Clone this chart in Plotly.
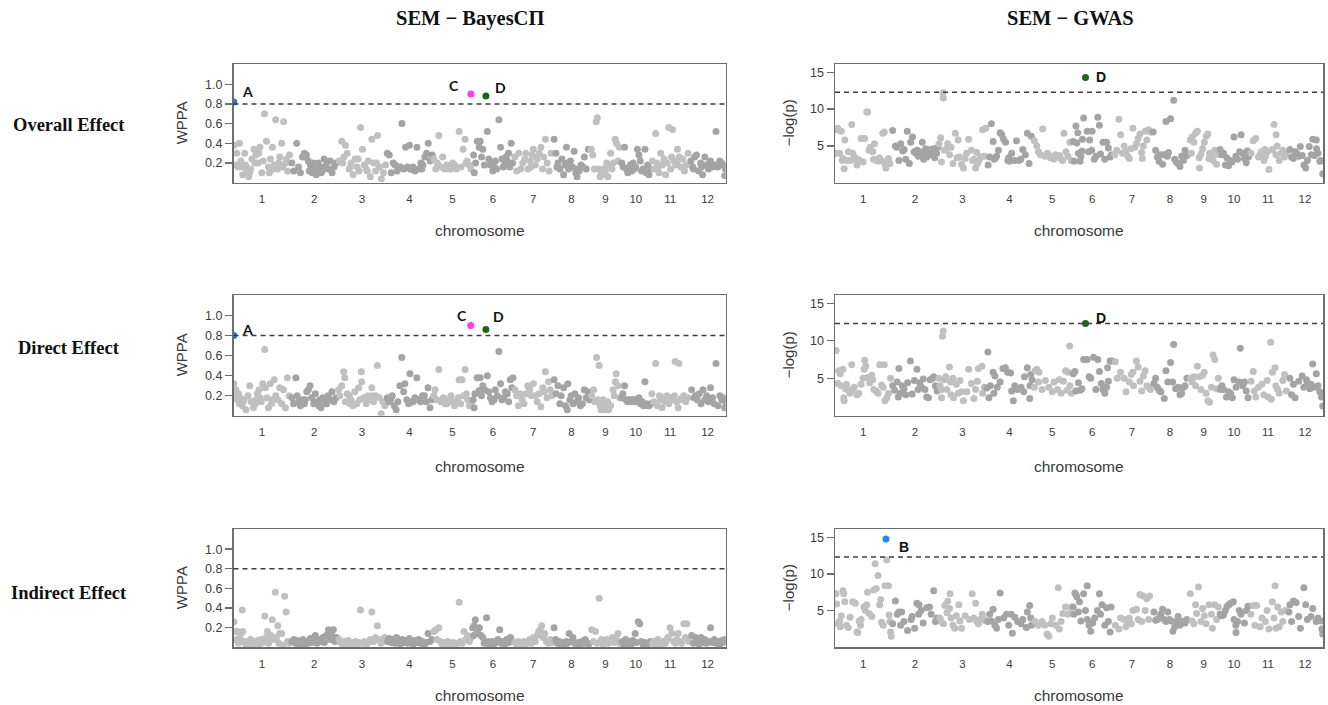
import plotly.graph_objects as go

# ---------------- data ----------------
CHR_LEN = [43.27, 35.94, 36.41, 35.50, 29.96, 31.25, 29.70, 28.44, 23.01, 23.21, 29.02, 27.53]
CHR_NAMES = ["1", "2", "3", "4", "5", "6", "7", "8", "9", "10", "11", "12"]

WPPA_TICKS = [0.2, 0.4, 0.6, 0.8, 1.0]
WPPA_TICK_TEXT = ["0.2", "0.4", "0.6", "0.8", "1.0"]
GWAS_TICKS = [5, 10, 15]
GWAS_TICK_TEXT = ["5", "10", "15"]
WPPA_THRESHOLD = 0.8
GWAS_THRESHOLD = 12.3

# one list per chromosome of (position in Mb, value)
OVERALL_BAYES = [
    [(0.5,.38),(1.5,.18),(2.5,.30),(3.5,.16),(4.5,.40),(5.5,.22),(6.2,.16),(7,.08),(8.5,.30),(9.2,.18),(10,.12),(11.5,.06),(12.2,.10),(13,.14),(14,.24),(15.5,.34),(16.2,.20),(17,.28),(18.5,.20),(19.2,.30),(20,.36),(21.5,.10),(22.5,.22),(23.5,.70),(25,.42),(26.5,.16),(27.2,.10),(28,.24),(29.5,.36),(30.2,.14),(31,.18),(32,.64),(33.5,.14),(34.2,.20),(35,.26),(36.5,.40),(37.2,.16),(38,.62),(39.5,.20),(40.2,.24),(41,.12),(42.5,.28)],
    [(1,.20),(2.5,.12),(4.6,.40),(6,.16),(7.5,.10),(9,.26),(10.5,.30),(11.2,.26),(12,.28),(13.5,.22),(14.2,.12),(15,.18),(16.5,.10),(17.2,.20),(18,.14),(19.5,.08),(20.2,.14),(21,.20),(22.5,.16),(23.2,.10),(24,.12),(25.5,.24),(26.2,.16),(27,.18),(28.5,.14),(30,.22),(31.5,.10),(33,.16),(34.5,.20)],
    [(1,.22),(2.9,.42),(4.5,.26),(5.7,.38),(7,.30),(8.5,.14),(10,.20),(11.5,.08),(13,.24),(14.5,.16),(16,.12),(17.2,.56),(18.6,.34),(20,.18),(21.5,.14),(23,.22),(24.5,.06),(25.7,.44),(27,.20),(28.5,.12),(30,.48),(31.5,.16),(32.9,.04),(34.5,.10),(36,.18),(3.6,.20),(9.2,.16),(15.2,.24),(22.2,.12),(29.2,.20)],
    [(1,.30),(2.5,.28),(4,.10),(5.5,.20),(7,.18),(8.5,.12),(10,.16),(12.1,.60),(13.5,.14),(14.9,.36),(16.3,.16),(17.8,.38),(19.2,.14),(20.6,.16),(22,.12),(23.5,.36),(25,.14),(26.5,.20),(28,.18),(29.5,.26),(30.8,.30),(32,.40),(33.5,.22),(35,.28),(11.2,.16),(18.5,.14),(27.2,.14)],
    [(0.8,.24),(2.2,.14),(3.5,.20),(4.6,.48),(6,.16),(7.5,.26),(9,.14),(10.5,.18),(12,.16),(13.5,.14),(15,.20),(16.5,.18),(18,.14),(20,.52),(21.5,.16),(23,.34),(24.5,.44),(26,.22),(27.5,.18),(29,.14),(11.2,.14),(17.2,.16),(25.2,.20)],
    [(1,.28),(1.5,.10),(2.5,.20),(3.8,.42),(5.2,.36),(6,.42),(7,.26),(8,.34),(9.2,.18),(11.4,.52),(12.5,.24),(13.5,.18),(14.5,.20),(15.5,.12),(16.5,.16),(17.5,.22),(18.5,.14),(20.2,.64),(21.4,.36),(22.5,.24),(23.5,.16),(24.5,.18),(25.5,.26),(26.5,.22),(27.5,.30),(28.5,.16),(29.5,.40),(30.5,.20)],
    [(1,.26),(2.5,.12),(4,.30),(5.5,.14),(7,.20),(8.5,.24),(9.4,.30),(11,.14),(12.5,.22),(14,.28),(15,.34),(16.5,.18),(18,.24),(19.5,.30),(20.8,.36),(22,.14),(23,.26),(24.2,.44),(25.5,.20),(27,.12),(28.5,.30),(13.2,.16),(17.2,.26)],
    [(1.1,.44),(2.5,.30),(4,.20),(5.5,.14),(7,.24),(8.3,.08),(9.5,.18),(10.5,.36),(12,.14),(13.5,.22),(15,.16),(16.3,.32),(17.5,.10),(18.5,.06),(20,.12),(21.5,.18),(23,.16),(24,.26),(25.5,.14),(27,.34),(3.2,.16),(11.2,.20),(19.2,.14)],
    [(0.8,.34),(2,.28),(3.2,.14),(4.6,.62),(5.4,.66),(6.5,.14),(7.5,.06),(8.5,.10),(9.5,.08),(10.5,.14),(11.5,.12),(12.5,.20),(13.5,.06),(14.5,.18),(15.5,.30),(16.5,.14),(17.5,.20),(19,.44),(20,.40),(21,.22),(22,.36)],
    [(1,.20),(2,.16),(3.1,.36),(4.5,.14),(5.5,.10),(6.5,.16),(7.5,.18),(8.5,.12),(9.5,.20),(10.5,.14),(11.5,.16),(12.8,.34),(14,.28),(15,.22),(16,.12),(17,.14),(18.5,.34),(19.5,.10),(20.5,.18),(21.5,.08),(22.5,.14)],
    [(1,.22),(2.2,.14),(3.4,.50),(4.6,.20),(6,.10),(7.2,.30),(8.5,.18),(9.8,.24),(11,.08),(12.2,.20),(13.4,.56),(14.8,.14),(16.2,.54),(17.5,.22),(18.8,.18),(20,.34),(21.3,.26),(22.6,.16),(24,.24),(25.3,.12),(26.6,.18),(28,.30),(5.2,.16),(10.5,.20),(15.5,.26),(19.5,.20)],
    [(1,.22),(2.5,.16),(4,.26),(5.4,.28),(7,.12),(8.5,.20),(10,.08),(11.7,.26),(13,.18),(14.5,.14),(16,.22),(17.5,.16),(19,.18),(20.2,.52),(21.5,.16),(23,.22),(24.5,.20),(25.5,.18),(26.8,.07),(27.3,.14),(3.2,.14),(9.2,.16),(15.2,.20)],
]

OVERALL_GWAS = [
    [(0.5,4.0),(2.1,7.4),(3.5,4.0),(4.8,7.0),(6.1,3.3),(7.0,1.9),(7.5,5.8),(9,3.0),(10.2,4.2),(11.5,3.0),(12.8,7.9),(13.5,4.0),(15,3.5),(16.8,2.4),(18.2,3.1),(20,6.0),(21.5,2.8),(22.7,6.0),(24.3,9.6),(24.9,9.6),(26,4.4),(27,4.8),(28.9,4.2),(29.5,3.2),(30.2,5.3),(31.5,3.0),(32.9,2.9),(34,3.4),(35.6,3.0),(36.5,6.7),(37.7,6.9),(38.2,2.5),(39,2.0),(40.9,3.3),(42,2.6),(1.2,7.2),(5.5,3.0),(14.2,3.2)],
    [(0.8,7.1),(2.9,5.0),(4,4.8),(5.6,3.0),(7,5.3),(8.5,4.3),(9.6,4.5),(12,7.0),(13.6,2.6),(14.6,5.5),(16,6.2),(18.6,4.0),(19.5,4.4),(20.5,3.6),(21.5,4.2),(22.5,3.9),(23.5,5.5),(24.5,3.2),(26,4.6),(27,3.5),(28,4.0),(29.5,4.5),(31,3.8),(32,4.6),(33,3.4),(34.5,4.0),(35.5,4.8),(10.8,3.2),(17.2,4.2),(25.2,4.1)],
    [(0.3,5.3),(1.6,6.1),(2.2,2.8),(3.3,12.2),(3.6,11.5),(4.5,4.4),(5.6,4.5),(7,5.3),(8.5,3.8),(9.6,4.8),(11,2.6),(12.8,6.7),(14,3.4),(15,5.8),(16.3,3.5),(17.5,2.5),(19,2.0),(20.3,3.3),(21.5,4.0),(23,5.9),(25.1,4.4),(26,3.0),(27,3.2),(28.3,2.0),(29.2,4.1),(29.7,2.6),(31,3.0),(32.2,3.5),(33.7,7.2),(35,3.6),(36.1,7.4)],
    [(1.5,2.4),(2.7,3.5),(4,8.0),(5.3,5.6),(7,3.4),(8,3.6),(9.4,4.4),(10.7,6.8),(12,6.5),(13.3,5.9),(14.8,5.5),(16.6,3.0),(18,2.9),(19.5,4.0),(21.5,3.0),(23.2,5.7),(25,3.0),(26.5,3.2),(28,4.5),(30,3.8),(31.5,6.7),(32.8,2.6),(34.5,6.3),(6.2,3.2),(17.2,3.4)],
    [(1.3,5.7),(3.2,5.0),(4.5,4.2),(6,3.8),(7.7,7.3),(9.5,3.6),(11.5,4.0),(13.5,3.4),(15,3.6),(17.5,3.8),(19.7,3.5),(21.5,3.3),(23,3.0),(24,6.7),(25.5,4.2),(27,3.6),(28.5,5.5),(29.6,3.0),(10.5,3.8),(16.2,3.2),(20.6,3.7)],
    [(1.1,5.6),(1.9,2.9),(3.2,7.7),(3.8,5.4),(4.6,6.8),(5.1,4.0),(6.4,2.9),(7.0,3.6),(7.8,4.3),(8.1,5.9),(9.1,8.8),(11.8,7.0),(13.7,5.8),(15.3,4.4),(15.6,7.0),(17.2,3.2),(19.9,8.9),(21.2,7.8),(22.0,3.9),(23.9,5.5),(25.3,3.2),(26.6,5.5),(28.0,4.7),(29.3,3.5),(30.5,3.8),(12.8,4.2),(18.5,3.6)],
    [(1.5,3.8),(4.8,8.6),(6.1,6.5),(8.8,5.0),(10.2,4.2),(11.5,3.6),(12.8,3.3),(14,4.6),(15.5,7.4),(17,4.8),(18.2,5.3),(19.5,6.0),(20.9,6.6),(22.2,4.1),(22.7,3.3),(23.5,5.0),(24.9,7.0),(26.2,5.8),(27.5,7.2),(28.9,6.9),(3.2,4.4),(7.5,4.0)],
    [(1.3,6.9),(3.2,4.4),(4.5,3.5),(5.8,2.9),(7,3.8),(8.5,2.5),(9.3,3.8),(11.1,8.3),(12.2,3.6),(13,4.1),(14.6,8.7),(17,11.2),(17.8,3.2),(19,2.8),(20.4,2.6),(21.8,2.2),(23.1,3.6),(24.5,3.0),(25.7,4.4),(27.1,3.7)],
    [(1.3,5.8),(2.1,4.0),(2.7,6.2),(4.0,5.5),(5.3,6.7),(6.7,7.0),(8.0,3.4),(8.3,2.0),(9.5,3.9),(10.7,4.6),(12.0,5.5),(13.4,6.3),(14.7,6.6),(15.5,3.3),(16.0,4.0),(17.5,3.6),(18.7,3.0),(20.0,4.4),(21.4,2.5),(22.5,3.8)],
    [(1.1,4.5),(2.5,3.8),(3.7,4.0),(5.1,2.4),(7.5,2.3),(8.8,3.0),(10.0,2.8),(11.7,6.2),(13.1,3.6),(14.4,3.2),(16.0,4.2),(17.1,6.5),(18.4,4.0),(19.7,3.3),(21.1,2.7),(21.9,4.3),(22.8,3.5),(6.2,3.4)],
    [(1.5,4.0),(3.2,5.7),(5.1,6.0),(7.2,3.5),(9.3,4.2),(11.4,3.0),(12.0,4.5),(12.5,3.6),(15.2,1.8),(17.8,4.5),(19.1,7.9),(20.5,3.8),(20.7,6.5),(21.5,5.0),(23.1,3.0),(24.5,4.0),(25.8,4.4),(27.1,3.5),(28.2,4.0),(8.2,3.8),(14.0,4.2)],
    [(2.2,4.5),(3.5,3.5),(4.9,3.3),(6.2,4.2),(7.5,4.0),(9,3.6),(10.2,4.9),(11.6,3.7),(12.9,2.4),(14.3,2.0),(15.6,3.0),(17,4.9),(18.6,3.8),(19.7,5.9),(21,3.7),(22.4,5.8),(22.6,4.6),(23.7,4.0),(25.1,2.9),(26,3.0),(27.3,1.2)],
]

DIRECT_BAYES = [
    [(0.3,.32),(0.9,.18),(1.8,.26),(3.0,.16),(3.7,.22),(4.5,.12),(5.1,.18),(6.6,.10),(8.0,.16),(9.5,.06),(11,.20),(12.3,.30),(13.5,.14),(15.1,.08),(16.5,.12),(18.0,.22),(19.4,.26),(21,.14),(22.2,.32),(23.7,.66),(24.2,.28),(25.3,.18),(26.5,.08),(27.9,.32),(28.8,.12),(30.8,.36),(32,.20),(33.6,.16),(35.1,.28),(36.5,.12),(37.9,.26),(39.4,.08),(40.8,.38),(42.2,.20),(2.4,.20),(7.2,.14),(17.2,.16),(20.2,.18),(29.6,.16)],
    [(1.0,.18),(2.3,.12),(4.0,.38),(5.0,.20),(6.0,.14),(7.5,.10),(9.0,.16),(10.5,.12),(12.3,.24),(13.5,.26),(14.8,.30),(16,.18),(18.8,.22),(20.2,.14),(21.5,.10),(23.1,.08),(24.5,.18),(26,.14),(27.4,.12),(28.5,.20),(30.2,.16),(31.4,.24),(32.8,.14),(34.5,.18),(11.2,.16),(17.5,.12),(22.2,.16)],
    [(0.5,.26),(1.4,.20),(2.9,.30),(4.3,.44),(5.1,.38),(5.7,.14),(7,.22),(8.6,.20),(10,.16),(11.4,.10),(12.8,.24),(14.2,.12),(15.7,.28),(17.7,.44),(18.0,.34),(19.5,.18),(21.4,.12),(22.8,.20),(24.2,.16),(25.7,.28),(27,.14),(28.5,.20),(29.9,.50),(31.4,.18),(32.8,.02),(34.2,.14),(35.6,.10),(9.2,.12),(16.5,.16),(26.2,.20)],
    [(1,.18),(2.2,.14),(3.4,.16),(4.8,.20),(6.3,.10),(7.7,.06),(9,.14),(10.5,.30),(12.0,.58),(13.4,.24),(14.3,.32),(15.8,.16),(17.2,.12),(18.2,.42),(19.3,.14),(20.5,.14),(22,.18),(23.4,.38),(24.8,.16),(26.2,.14),(27.7,.20),(29.1,.20),(30.5,.14),(31.9,.28),(33.4,.08),(34.8,.16)],
    [(0.8,.20),(1.7,.26),(3.2,.16),(4.6,.46),(6.3,.14),(8.0,.18),(9.5,.12),(10.8,.12),(12.3,.16),(13.7,.20),(15.2,.14),(16.5,.10),(18.0,.14),(19.2,.18),(20.0,.36),(21.2,.12),(22.2,.36),(23.4,.20),(24.5,.46),(25.5,.22),(26.5,.16),(27.9,.10),(29.5,.14)],
    [(0.6,.16),(1.4,.08),(2.0,.22),(3.7,.38),(5.1,.25),(6.0,.38),(7.0,.20),(8.0,.30),(9.4,.26),(11.4,.40),(12.5,.24),(13.7,.18),(15,.14),(16.5,.16),(17.4,.26),(19,.20),(20.2,.64),(21.4,.32),(22.5,.16),(23.7,.18),(25.1,.24),(26.5,.22),(27.6,.14),(28.8,.36),(30.0,.28),(30.8,.38)],
    [(1.0,.26),(2.3,.20),(3.7,.10),(5.0,.22),(6.6,.16),(8.0,.12),(9.4,.22),(10.8,.30),(12.3,.26),(13.6,.20),(15.1,.32),(16.5,.20),(18.0,.14),(19.4,.22),(20.8,.09),(22.2,.28),(23.3,.24),(24.2,.44),(25.4,.18),(26.5,.34),(27.9,.26),(29.0,.20)],
    [(1.1,.36),(2.5,.22),(4.0,.30),(5.4,.12),(6.5,.20),(8.3,.28),(9.7,.10),(11.1,.06),(11.5,.32),(13,.16),(14.0,.20),(15.4,.12),(16.8,.22),(18.2,.14),(19.6,.18),(21.0,.10),(22.5,.12),(24.0,.26),(25.4,.18),(26.8,.24),(27.8,.16)],
    [(1.1,.20),(2.6,.26),(3.5,.14),(4.8,.58),(5.8,.16),(6.8,.50),(7.5,.10),(8.3,.06),(9.0,.12),(9.7,.16),(10.4,.08),(11.1,.06),(11.8,.10),(12.5,.08),(13.2,.14),(14.0,.06),(15.5,.10),(17.4,.26),(18.3,.20),(19.1,.34),(19.7,.42),(21.1,.30),(22.5,.18)],
    [(0.8,.18),(1.8,.22),(3.1,.30),(4.2,.16),(5.3,.14),(6.3,.16),(7.4,.16),(8.5,.14),(9.6,.16),(10.6,.16),(11.7,.14),(12.8,.16),(14.0,.18),(15.2,.12),(16.3,.14),(17.5,.10),(18.5,.34),(19.6,.12),(20.6,.10),(21.7,.10),(22.7,.12)],
    [(0.6,.22),(2.0,.14),(3.4,.52),(4.8,.10),(6.3,.20),(7.1,.16),(8.3,.08),(9.5,.18),(10.6,.14),(12.0,.20),(13.4,.12),(14.8,.18),(16.2,.16),(17.7,.20),(18.2,.54),(19.3,.14),(20.5,.08),(21.1,.52),(22.0,.16),(23.4,.18),(24.8,.20),(26.2,.14),(27.7,.18)],
    [(1.7,.26),(3.5,.18),(4.6,.20),(6.0,.16),(7.4,.22),(8.8,.12),(10.3,.26),(11.7,.16),(13.1,.20),(14.5,.14),(16.0,.28),(17.5,.18),(18.8,.12),(20.2,.52),(21.7,.10),(23.1,.20),(24.5,.16),(25.9,.18),(26.8,.08),(27.3,.14)],
]

DIRECT_GWAS = [
    [(0.8,8.7),(2.1,4.3),(2.9,6.0),(4.0,5.6),(4.8,4.0),(6.1,6.2),(6.7,2.4),(7.0,2.0),(8.0,3.6),(8.8,4.2),(10.2,3.4),(11.5,3.0),(12.8,6.8),(13.2,3.5),(14.7,3.8),(16.8,2.8),(18.2,3.0),(20.0,4.2),(21.5,5.0),(22.2,6.2),(22.7,7.4),(23.5,6.6),(24.9,5.1),(26.5,4.4),(28.1,5.4),(28.9,4.8),(29.7,3.5),(31.6,3.3),(32.9,3.0),(34.2,6.8),(35.6,4.1),(36.9,3.8),(37.7,6.8),(38.2,2.0),(39.6,2.4),(40.9,3.0),(42.5,5.0)],
    [(0.8,4.0),(2.4,3.4),(4.3,4.5),(5.1,2.5),(5.6,6.3),(6.9,3.0),(8.2,4.0),(9.5,3.6),(10.9,2.8),(12.3,4.4),(14.4,7.3),(15.7,2.9),(17.5,4.7),(19.4,6.2),(20.2,3.5),(21.5,4.4),(22.9,3.8),(24.2,4.9),(25.5,3.5),(26.9,2.5),(28.2,2.4),(29.5,4.8),(31.4,5.0),(32.2,5.2),(33.5,4.0),(34.8,3.3)],
    [(0.3,5.0),(1.1,4.0),(2.1,3.5),(2.3,2.4),(3.0,10.6),(3.5,11.3),(4.3,4.8),(5.6,5.2),(6.4,3.5),(8.3,6.5),(9.1,4.5),(9.6,2.8),(11.0,5.0),(11.5,2.4),(13.6,4.2),(15.0,3.0),(16.3,4.7),(17.6,3.2),(19.0,2.0),(21.7,3.2),(23.0,6.2),(25.1,4.3),(27.0,2.3),(28.3,3.5),(29.7,4.6),(30.5,6.3),(33.2,6.6),(33.7,3.0),(35.0,3.8)],
    [(0.5,3.7),(1.3,8.5),(2.1,2.4),(3.2,4.0),(5.3,5.8),(5.9,3.0),(6.7,5.3),(8.5,3.8),(10.7,4.5),(12.8,6.3),(14.7,6.4),(16.5,5.8),(18.7,5.7),(19.5,3.3),(20.8,2.0),(21.9,4.0),(24.0,3.5),(26.7,3.8),(28.8,3.2),(29.3,5.2),(31.5,6.4),(33.3,2.3),(33.5,4.0),(34.1,5.5),(35.2,4.8)],
    [(1.3,3.8),(1.9,6.0),(3.2,6.2),(4.5,4.5),(5.0,5.8),(7.2,3.5),(9.8,4.7),(12.5,3.8),(15.1,3.2),(16.4,4.5),(19.1,3.5),(20.4,4.8),(21.8,3.0),(23.6,4.6),(25.2,6.0),(26.3,3.4),(27.1,5.8),(28.4,9.3),(28.6,4.0),(29.7,3.0)],
    [(1.1,5.6),(2.4,5.9),(3.2,3.3),(5.1,4.4),(6.4,3.4),(7.8,3.6),(9.1,7.5),(11.8,7.5),(13.2,5.2),(14.5,5.0),(16.7,7.8),(18.5,3.5),(19.9,7.5),(21.2,5.9),(22.6,4.3),(23.9,3.5),(25.3,3.0),(26.6,3.8),(27.4,6.4),(28.0,4.6),(29.3,7.3),(30.6,7.3)],
    [(2.1,7.2),(3.5,5.0),(6.1,5.8),(8.8,5.0),(10.2,3.2),(12.8,4.5),(14.2,5.5),(15.5,5.8),(16.0,4.0),(18.2,7.3),(19.5,6.5),(20.9,4.6),(22.2,3.3),(23.5,5.3),(24.9,6.0),(26.2,4.0),(27.5,3.8),(28.9,3.5)],
    [(1.9,4.3),(3.2,5.0),(4.5,3.8),(5.8,3.4),(7.2,3.2),(9.8,2.3),(11.1,6.0),(12.5,4.5),(14.6,7.1),(16.2,4.5),(17.0,9.5),(18.5,3.6),(20.4,3.8),(21.8,2.8),(23.1,3.0),(24.5,3.8),(25.7,4.0),(27.1,5.0)],
    [(1.3,5.0),(2.7,4.5),(4.0,5.2),(5.3,4.0),(6.7,6.6),(8.0,5.2),(9.4,3.5),(10.7,5.4),(12.0,5.8),(13.4,3.0),(14.7,2.0),(16.0,1.8),(17.4,3.8),(18.7,8.1),(20.0,7.5),(21.4,3.6),(22.7,5.0)],
    [(1.2,3.5),(2.4,4.0),(3.7,3.5),(5.9,2.5),(7.5,3.2),(9.1,3.0),(10.4,2.4),(11.7,4.8),(13.3,3.8),(15.7,4.5),(16.5,9.0),(18.4,4.0),(19.7,4.5),(21.1,3.3),(22.4,2.4)],
    [(1.5,4.6),(3.2,5.9),(4.0,3.3),(5.1,2.5),(7.2,3.8),(9.8,4.2),(11.2,2.8),(13.8,4.7),(14.6,2.5),(16.5,9.8),(17.0,2.2),(17.8,5.8),(19.9,6.4),(20.5,4.0),(21.8,3.5),(23.1,3.0),(25.8,4.7),(27.1,5.5),(28.5,3.3)],
    [(2.2,5.0),(3.5,2.8),(4.9,4.2),(6.2,2.4),(8.9,4.6),(11.6,5.3),(12.9,3.8),(14.8,4.8),(15.6,4.4),(17.5,3.6),(18.3,4.2),(19.7,6.9),(21.0,3.8),(22.4,5.6),(23.7,4.0),(25.1,3.2),(26.4,2.5),(27.3,1.3)],
]

INDIRECT_BAYES = [
    [(0.3,.26),(1.2,.08),(2.0,.16),(2.9,.16),(3.8,.04),(4.6,.10),(5.5,.14),(6.6,.38),(7.0,.16),(8.0,.06),(9.3,.03),(10.5,.06),(11.8,.04),(13.0,.08),(14.5,.02),(15.8,.06),(17.0,.04),(18.5,.07),(19.8,.03),(21.0,.08),(22.3,.05),(23.7,.32),(24.6,.10),(25.7,.16),(26.6,.04),(27.6,.08),(28.5,.12),(29.4,.28),(30.5,.08),(31.7,.56),(32.5,.10),(33.6,.22),(34.4,.04),(35.1,.14),(36.5,.14),(37.5,.02),(38.8,.52),(39.9,.36),(41.0,.06),(42.3,.04)],
    [(1.0,.06),(2.4,.08),(3.8,.04),(5.2,.07),(6.6,.02),(8.0,.05),(9.4,.08),(10.8,.03),(12.2,.06),(13.6,.04),(15.0,.09),(16.4,.05),(17.6,.07),(18.8,.12),(20.0,.04),(21.4,.08),(22.8,.06),(24.5,.10),(25.6,.05),(27.0,.12),(28.8,.18),(30.0,.08),(31.2,.12),(32.5,.18),(33.6,.06),(34.8,.10)],
    [(0.8,.08),(2.2,.05),(3.6,.03),(5.0,.06),(6.4,.04),(7.8,.07),(9.2,.03),(10.6,.05),(12.0,.04),(13.4,.06),(14.8,.03),(16.0,.05),(17.1,.38),(18.5,.04),(20.0,.06),(21.5,.03),(23.0,.05),(24.5,.08),(25.7,.36),(27.0,.06),(28.4,.10),(29.9,.22),(31.2,.08),(32.6,.04),(34.0,.07),(35.5,.10)],
    [(1.0,.06),(2.4,.09),(3.8,.05),(5.2,.08),(6.6,.04),(8.0,.10),(9.4,.06),(10.8,.03),(12.2,.08),(13.6,.05),(15.0,.07),(16.4,.04),(17.8,.09),(19.2,.06),(20.6,.03),(22.0,.07),(23.4,.05),(24.8,.08),(26.2,.04),(27.6,.06),(29.0,.02),(30.4,.05),(31.9,.14),(33.4,.06),(34.8,.08)],
    [(0.9,.16),(2.3,.18),(3.2,.08),(4.6,.20),(5.8,.06),(7.2,.03),(8.6,.05),(10.0,.02),(11.4,.06),(12.8,.04),(14.2,.03),(15.6,.05),(17.0,.02),(18.5,.04),(20.0,.46),(21.0,.06),(22.3,.04),(23.7,.16),(25.0,.08),(26.4,.12),(27.8,.06),(29.2,.10)],
    [(0.3,.20),(1.0,.12),(1.4,.22),(2.3,.28),(3.3,.14),(4.3,.14),(5.4,.20),(6.6,.12),(8.0,.10),(9.0,.04),(10.8,.30),(11.8,.06),(13.0,.02),(14.0,.05),(15.1,.06),(16.4,.03),(17.8,.05),(19.4,.08),(20.8,.18),(22.0,.04),(23.4,.06),(24.8,.03),(26.2,.08),(27.6,.05),(29.0,.10),(30.4,.06)],
    [(1.0,.05),(2.4,.03),(3.8,.06),(5.2,.02),(6.6,.04),(8.0,.06),(9.4,.03),(10.8,.05),(12.2,.08),(13.6,.04),(15.1,.10),(16.5,.06),(18.0,.12),(19.2,.16),(20.2,.18),(21.4,.22),(22.5,.10),(23.7,.14),(25.0,.06),(26.4,.04),(27.8,.08),(29.0,.05)],
    [(1.1,.20),(2.3,.08),(3.6,.04),(5.0,.06),(6.3,.02),(7.6,.05),(9.0,.03),(10.3,.06),(11.4,.04),(12.5,.14),(13.8,.06),(15.4,.10),(16.7,.04),(18.0,.02),(19.3,.05),(20.6,.03),(22.0,.06),(23.3,.04),(24.6,.08),(26.0,.05),(27.3,.03)],
    [(1.1,.18),(2.5,.06),(4.0,.16),(5.4,.04),(6.8,.50),(8.3,.08),(9.6,.03),(11.0,.06),(12.4,.08),(13.8,.04),(15.2,.06),(16.8,.10),(18.2,.05),(19.6,.08),(21.1,.14),(22.4,.04)],
    [(1.0,.06),(2.4,.03),(3.8,.08),(5.2,.04),(6.6,.06),(8.0,.02),(9.4,.07),(11.1,.14),(12.2,.05),(13.4,.26),(14.5,.24),(15.8,.06),(17.2,.03),(18.6,.05),(20.0,.02),(21.4,.04),(22.7,.06)],
    [(1.0,.04),(2.4,.06),(3.8,.03),(5.2,.08),(6.6,.05),(8.0,.02),(9.4,.06),(10.8,.04),(12.0,.08),(12.8,.10),(14.3,.20),(15.7,.14),(17.0,.06),(18.4,.04),(19.5,.08),(20.5,.14),(21.8,.06),(23.0,.04),(24.8,.24),(26.0,.10),(27.1,.24),(28.3,.06)],
    [(1.7,.12),(3.0,.04),(4.6,.10),(6.0,.06),(7.4,.03),(8.8,.10),(10.2,.05),(11.6,.08),(13.0,.04),(14.5,.06),(16.0,.20),(17.4,.05),(18.8,.08),(20.2,.04),(21.6,.06),(23.0,.03),(24.4,.07),(25.8,.05),(27.0,.08)],
]

INDIRECT_GWAS = [
    [(0.8,7.3),(1.3,5.9),(2.1,3.2),(3.5,3.6),(4.0,2.8),(4.8,4.3),(6.1,7.7),(6.7,7.3),(7.5,6.2),(8.8,3.0),(10.2,2.7),(11.5,4.1),(13.6,6.2),(15.5,6.0),(16.8,2.1),(17.4,2.0),(18.5,3.6),(19.5,3.0),(20.0,3.8),(22.2,5.5),(23.2,5.0),(24.3,5.8),(24.9,7.5),(26.2,4.6),(28.1,4.2),(29.7,7.8),(30.7,11.4),(31.6,8.0),(32.9,9.8),(34.2,5.8),(35.0,6.5),(35.6,3.4),(36.9,3.0),(38.2,8.4),(39.6,11.9),(40.9,8.4),(41.4,4.4),(42.0,3.5),(42.5,2.1),(43.0,1.5)],
    [(0.8,3.2),(2.9,6.3),(4.3,4.5),(5.6,4.8),(6.9,3.0),(7.7,4.8),(9.5,3.5),(12.2,2.3),(14.9,3.8),(15.7,4.2),(17.6,2.6),(19.4,6.0),(20.7,4.5),(21.0,5.8),(22.6,5.0),(24.2,3.3),(26.9,5.4),(29.0,5.5),(30.3,4.5),(32.2,7.7),(33.5,3.5),(34.8,4.0)],
    [(1.1,4.0),(2.1,3.5),(3.7,3.2),(4.8,5.7),(6.4,4.7),(7.0,6.3),(8.3,5.3),(8.8,7.3),(9.6,4.0),(11.0,3.0),(12.3,2.6),(13.6,4.3),(15.5,5.8),(16.3,3.6),(17.6,2.6),(20.3,4.3),(23.5,3.8),(25.7,7.3),(27.0,4.0),(28.3,6.0),(29.2,3.6),(30.5,3.2),(31.8,3.8),(33.4,4.5),(34.8,3.8),(36.0,3.6)],
    [(1.3,3.5),(2.7,4.5),(4.0,3.6),(5.3,5.2),(6.7,3.0),(8.0,2.6),(9.3,3.8),(10.7,7.4),(13.3,4.0),(15.5,4.5),(17.3,3.0),(19.2,4.5),(20.0,1.9),(21.9,4.1),(24.0,3.5),(26.7,3.2),(28.0,3.8),(30.7,2.7),(31.5,4.8),(33.3,5.7),(34.1,4.0),(34.7,3.0)],
    [(1.9,3.5),(4.5,3.0),(7.2,3.5),(9.3,3.0),(11.1,1.8),(12.5,1.5),(13.8,3.2),(15.1,4.0),(17.8,3.0),(19.6,8.1),(20.4,2.5),(21.8,3.5),(23.1,4.6),(25.2,5.5),(27.1,4.5),(28.4,4.6),(29.7,5.5)],
    [(1.1,5.5),(1.6,4.5),(2.4,7.4),(3.2,7.2),(3.8,6.9),(5.1,4.8),(5.9,6.2),(7.0,3.6),(9.1,7.3),(10.5,5.0),(11.8,8.4),(11.9,3.8),(13.2,3.0),(14.5,2.2),(16.0,3.3),(17.5,4.0),(19.6,5.0),(21.2,7.3),(22.0,4.5),(23.1,5.8),(25.3,3.0),(26.6,5.4),(28.0,3.5),(29.3,2.1),(30.1,5.5)],
    [(2.1,3.0),(4.8,2.5),(6.1,4.0),(8.8,3.8),(10.2,2.8),(11.5,3.2),(12.8,4.0),(14.2,3.2),(15.5,5.0),(18.2,5.2),(19.5,3.8),(20.9,7.2),(22.2,3.5),(23.5,7.0),(24.9,5.0),(26.2,6.6),(27.5,3.8),(28.3,7.0)],
    [(1.9,4.8),(3.2,3.7),(4.5,3.8),(5.8,4.0),(7.2,4.5),(8.5,5.2),(9.8,3.8),(11.1,3.5),(12.5,4.8),(13.8,3.8),(15.1,3.6),(16.4,2.2),(17.8,2.8),(19.1,3.5),(20.4,4.2),(21.8,3.0),(23.1,3.5),(25.7,3.3),(27.0,3.8)],
    [(1.3,7.3),(2.7,3.6),(4.0,3.2),(5.3,5.8),(6.1,4.6),(7.5,8.2),(9.4,3.5),(10.7,5.3),(12.0,4.3),(13.4,3.2),(15.5,5.8),(17.4,4.5),(18.2,2.6),(20.0,5.8),(21.4,3.8),(22.7,5.5)],
    [(1.1,4.5),(2.4,4.3),(3.7,4.4),(5.1,5.0),(6.4,5.6),(7.7,5.8),(9.1,6.0),(11.2,6.2),(11.7,3.8),(13.1,3.0),(13.2,2.0),(14.4,3.5),(15.7,5.0),(17.1,4.5),(19.7,3.3),(21.1,5.0),(22.4,5.6)],
    [(1.3,4.5),(3.2,5.7),(4.5,3.0),(5.9,5.7),(8.5,2.8),(9.8,4.0),(12.5,3.5),(13.8,5.0),(15.2,2.5),(17.8,6.2),(19.1,4.0),(19.9,8.4),(20.5,2.6),(21.8,5.5),(23.1,2.8),(24.5,4.8),(25.8,3.5),(27.9,5.0)],
    [(1.5,4.8),(2.2,5.8),(3.5,3.5),(4.9,6.3),(7.0,6.1),(8.9,4.2),(10.2,2.6),(12.9,8.1),(14.3,5.8),(15.6,3.8),(18.3,4.2),(19.7,5.3),(22.4,3.5),(23.7,4.0),(25.9,3.6),(26.7,2.5),(27.3,1.8)],
]

# highlighted markers: (label, chromosome, position Mb, value)
OVERALL_BAYES_HITS = [("A", 1, 0.2, 0.82), ("C", 5, 28.9, 0.90), ("D", 6, 10.3, 0.88)]
OVERALL_GWAS_HITS = [("D", 6, 10.5, 14.3)]
DIRECT_BAYES_HITS = [("A", 1, 0.2, 0.80), ("C", 5, 28.8, 0.90), ("D", 6, 10.3, 0.86)]
DIRECT_GWAS_HITS = [("D", 6, 10.5, 12.3)]
INDIRECT_BAYES_HITS = []
INDIRECT_GWAS_HITS = [("B", 1, 39.0, 14.75)]

COL_TITLES = ["SEM − BayesCΠ", "SEM − GWAS"]
ROW_TITLES = ["Overall Effect", "Direct Effect", "Indirect Effect"]

# ---------------- styling ----------------
W, H = 1328, 705
LIGHT, DARK = "#c0c0c0", "#a4a4a4"
HIT_COLORS = {"A": "#2b6fd8", "B": "#2088f5", "C": "#ff3cf0", "D": "#1b661b"}
FRAME = "#6e6e6e"
TXT = "#3a3a3a"

XDOM = [[233.5 / W, 725.7 / W], [835 / W, 1323 / W]]
YPIX = [(64, 182.7), (295, 415.7), (529, 647.3)]
YDOM = [[1 - b / H, 1 - t / H] for t, b in YPIX]

# label offsets in pixels (panel index, label) -> (dx, dy)
LABEL_SHIFT = {
    (0, "A"): (14, 10), (0, "C"): (-17, 9), (0, "D"): (15, 9),
    (1, "D"): (16, 0),
    (2, "A"): (14, 6), (2, "C"): (-9, 10), (2, "D"): (13, 13),
    (3, "D"): (16, 6),
    (5, "B"): (18, -8),
}

starts = [0.0]
for L in CHR_LEN[:-1]:
    starts.append(starts[-1] + L)
total = sum(CHR_LEN)
mids = [s + L / 2 for s, L in zip(starts, CHR_LEN)]

panels = [
    (OVERALL_BAYES, OVERALL_BAYES_HITS, "wppa"),
    (OVERALL_GWAS, OVERALL_GWAS_HITS, "gwas"),
    (DIRECT_BAYES, DIRECT_BAYES_HITS, "wppa"),
    (DIRECT_GWAS, DIRECT_GWAS_HITS, "gwas"),
    (INDIRECT_BAYES, INDIRECT_BAYES_HITS, "wppa"),
    (INDIRECT_GWAS, INDIRECT_GWAS_HITS, "gwas"),
]

fig = go.Figure()
layout = {}
for i, (data, hits, kind) in enumerate(panels):
    n = i + 1
    row, col = i // 2, i % 2
    xa = "x" if n == 1 else f"x{n}"
    ya = "y" if n == 1 else f"y{n}"
    for c, pts in enumerate(data):
        fig.add_trace(go.Scatter(
            x=[starts[c] + p[0] for p in pts], y=[p[1] for p in pts],
            mode="markers", xaxis=xa, yaxis=ya, hoverinfo="skip",
            marker=dict(size=7, color=LIGHT if c % 2 == 0 else DARK, line=dict(width=0)),
        ))
    for lab, chrom, pos, val in hits:
        xv = starts[chrom - 1] + pos
        fig.add_trace(go.Scatter(
            x=[xv], y=[val], mode="markers", xaxis=xa, yaxis=ya, hoverinfo="skip",
            marker=dict(size=7, color=HIT_COLORS[lab], line=dict(width=0)),
        ))
        dx, dy = LABEL_SHIFT[(i, lab)]
        fam = "Lato" if kind == "wppa" else "Liberation Sans"
        fig.add_annotation(x=xv, y=val, xref=xa, yref=ya, text=f"<b>{lab}</b>",
                           showarrow=False, xshift=dx, yshift=dy,
                           font=dict(family=fam, size=14, color="#111111"))
    thr = WPPA_THRESHOLD if kind == "wppa" else GWAS_THRESHOLD
    fig.add_shape(type="line", xref=f"{xa} domain", yref=ya, x0=0, x1=1, y0=thr, y1=thr,
                  line=dict(color="#3c3c3c", width=1.5, dash="5px,4px"), layer="above")

    xkey = "xaxis" if n == 1 else f"xaxis{n}"
    ykey = "yaxis" if n == 1 else f"yaxis{n}"
    layout[xkey] = dict(
        domain=XDOM[col], anchor=ya, range=[0, total], showgrid=False, zeroline=False,
        showline=True, mirror=True, linecolor=FRAME, linewidth=1.5,
        tickmode="array", tickvals=mids, ticktext=CHR_NAMES,
        ticks="outside", ticklen=5, tickcolor="rgba(0,0,0,0)",
        tickfont=dict(family="Liberation Sans", size=11.5, color=TXT),
    )
    if kind == "wppa":
        yr, tv, tt = [0, 1.205], WPPA_TICKS, WPPA_TICK_TEXT
    else:
        yr, tv, tt = [0, 16.12], GWAS_TICKS, GWAS_TICK_TEXT
    layout[ykey] = dict(
        domain=YDOM[row], anchor=xa, range=yr, showgrid=False, zeroline=False,
        showline=True, mirror=True, linecolor=FRAME, linewidth=1.5,
        tickmode="array", tickvals=tv, ticktext=tt,
        ticks="outside", ticklen=7, tickwidth=1.3, tickcolor=FRAME,
        tickfont=dict(family="Liberation Sans", size=12.5, color=TXT),
    )

    # axis titles
    ymid = (YDOM[row][0] + YDOM[row][1]) / 2
    fig.add_annotation(x=(181 if col == 0 else 788) / W, y=ymid, xref="paper", yref="paper",
                       text="WPPA" if kind == "wppa" else "−log(p)", textangle=-90,
                       showarrow=False, xanchor="center", yanchor="middle",
                       font=dict(family="Liberation Sans", size=15, color=TXT))
    cy = [230, 467, 695][row]
    fig.add_annotation(x=(XDOM[col][0] + XDOM[col][1]) / 2, y=1 - cy / H, xref="paper", yref="paper",
                       text="chromosome", showarrow=False, xanchor="center", yanchor="middle",
                       font=dict(family="Liberation Sans", size=15.5, color=TXT))

for t, xc in zip(COL_TITLES, [470, 1070]):
    fig.add_annotation(x=xc / W, y=1 - 18 / H, xref="paper", yref="paper", text=f"<b>{t}</b>",
                       showarrow=False, xanchor="center", yanchor="middle",
                       font=dict(family="Liberation Serif", size=20.5, color="#111111"))
for t, yc in zip(ROW_TITLES, [125, 348, 593]):
    fig.add_annotation(x=69 / W, y=1 - yc / H, xref="paper", yref="paper", text=f"<b>{t}</b>",
                       showarrow=False, xanchor="center", yanchor="middle",
                       font=dict(family="Liberation Serif", size=18.5, color="#111111"))

fig.update_layout(
    width=W, height=H, margin=dict(l=0, r=0, t=0, b=0),
    paper_bgcolor="white", plot_bgcolor="white", showlegend=False, **layout,
)
fig.write_html(
    "out.html",
    config={"displayModeBar": False, "staticPlot": True},
    post_script="document.body.style.margin='0';document.body.style.overflow='hidden';",
)
